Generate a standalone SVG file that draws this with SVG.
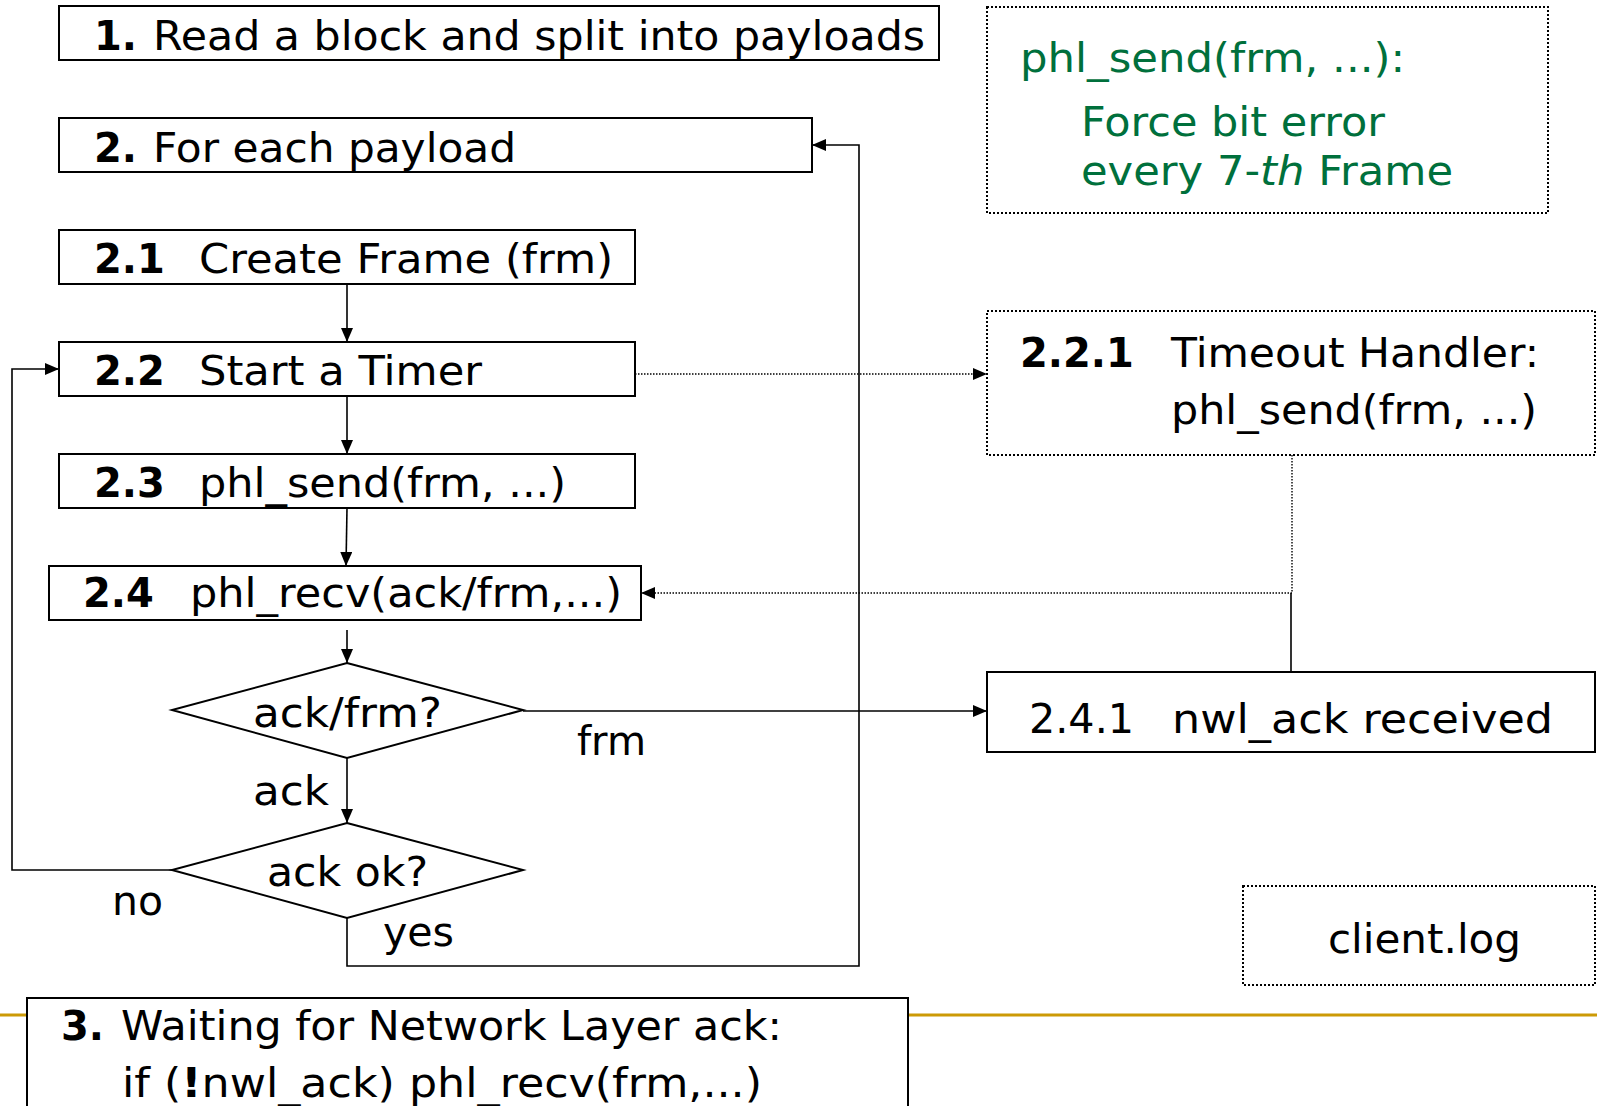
<svg xmlns="http://www.w3.org/2000/svg" width="1597" height="1106" viewBox="0 0 1597 1106">
<style>
text{font-family:"DejaVu Sans","Liberation Sans",sans-serif;font-size:40px;fill:#000}
.b{font-weight:bold}
.g{fill:#00703C}
.box{fill:#fff;stroke:#000;stroke-width:2}
.dbox{fill:#fff;stroke:#000;stroke-width:2;stroke-dasharray:2 2}
.ln{fill:none;stroke:#000;stroke-width:1.6}
.dl{fill:none;stroke:#000;stroke-width:1.4;stroke-dasharray:1.5 1.5}
</style>
<defs>
<marker id="arr" viewBox="0 0 14 12" refX="14" refY="6" markerWidth="14" markerHeight="12" orient="auto" markerUnits="userSpaceOnUse"><path d="M0,0 L14,6 L0,12 z" fill="#000"/></marker>
</defs>
<line x1="0" y1="1015" x2="1597" y2="1015" stroke="#CC9A06" stroke-width="3"/>
<g id="connectors">
<line class="ln" x1="347" y1="284" x2="347" y2="342" marker-end="url(#arr)"/>
<line class="ln" x1="347" y1="396" x2="347" y2="454" marker-end="url(#arr)"/>
<line class="ln" x1="347" y1="508" x2="346" y2="566" marker-end="url(#arr)"/>
<line class="ln" x1="347" y1="630" x2="347" y2="663" marker-end="url(#arr)"/>
<line class="ln" x1="347" y1="758" x2="347" y2="823" marker-end="url(#arr)"/>
<line class="ln" x1="523" y1="711" x2="987" y2="711" marker-end="url(#arr)"/>
<polyline class="ln" points="172,870 12,870 12,369 59,369" marker-end="url(#arr)"/>
<polyline class="ln" points="347,918 347,966 859,966 859,145 812,145" marker-end="url(#arr)"/>
<line class="dl" x1="635" y1="374" x2="987" y2="374" marker-end="url(#arr)"/>
<polyline class="dl" points="1292,455 1292,593 641,593" marker-end="url(#arr)"/>
<line class="ln" x1="1291" y1="672" x2="1291" y2="593"/>
<text x="253" y="805" textLength="76" lengthAdjust="spacingAndGlyphs">ack</text>
<text x="577" y="755" textLength="69" lengthAdjust="spacingAndGlyphs">frm</text>
<text x="112" y="915" textLength="51" lengthAdjust="spacingAndGlyphs">no</text>
<text x="383" y="946" textLength="71" lengthAdjust="spacingAndGlyphs">yes</text>
</g>
<g id="n1">
<rect class="box" x="59" y="6" width="880" height="54"/>
<text class="b" x="94" y="50">1.</text>
<text x="153" y="50" textLength="772" lengthAdjust="spacingAndGlyphs">Read a block and split into payloads</text>
</g>
<g id="n2">
<rect class="box" x="59" y="118" width="753" height="54"/>
<text class="b" x="94" y="162">2.</text>
<text x="153" y="162" textLength="363" lengthAdjust="spacingAndGlyphs">For each payload</text>
</g>
<g id="n21">
<rect class="box" x="59" y="230" width="576" height="54"/>
<text class="b" x="94" y="273">2.1</text>
<text x="199" y="273" textLength="414" lengthAdjust="spacingAndGlyphs">Create Frame (frm)</text>
</g>
<g id="n22">
<rect class="box" x="59" y="342" width="576" height="54"/>
<text class="b" x="94" y="385">2.2</text>
<text x="199" y="385" textLength="283" lengthAdjust="spacingAndGlyphs">Start a Timer</text>
</g>
<g id="n23">
<rect class="box" x="59" y="454" width="576" height="54"/>
<text class="b" x="94" y="497">2.3</text>
<text x="199" y="497" textLength="367" lengthAdjust="spacingAndGlyphs">phl_send(frm, ...)</text>
</g>
<g id="n24">
<rect class="box" x="49" y="566" width="592" height="54"/>
<text class="b" x="83" y="607">2.4</text>
<text x="190" y="607" textLength="432" lengthAdjust="spacingAndGlyphs">phl_recv(ack/frm,...)</text>
</g>
<g id="d1">
<polygon class="box" points="347,663 523,710 347,758 172,710"/>
<text x="253" y="727" textLength="189" lengthAdjust="spacingAndGlyphs">ack/frm?</text>
</g>
<g id="d2">
<polygon class="box" points="347,823 523,870 347,918 172,870"/>
<text x="267" y="886" textLength="161" lengthAdjust="spacingAndGlyphs">ack ok?</text>
</g>
<g id="n3">
<rect class="box" x="27" y="998" width="881" height="120"/>
<text class="b" x="61" y="1040">3.</text>
<text x="121" y="1040" textLength="661" lengthAdjust="spacingAndGlyphs">Waiting for Network Layer ack:</text>
<text x="122" y="1097" textLength="640" lengthAdjust="spacingAndGlyphs">if (<tspan class="b">!</tspan>nwl_ack) phl_recv(frm,...)</text>
</g>
<g id="note">
<rect class="dbox" x="987" y="7" width="561" height="206"/>
<text class="g" x="1020" y="72" textLength="385" lengthAdjust="spacingAndGlyphs">phl_send(frm, ...):</text>
<text class="g" x="1081" y="136" textLength="304" lengthAdjust="spacingAndGlyphs">Force bit error</text>
<text class="g" x="1081" y="185" textLength="372" lengthAdjust="spacingAndGlyphs">every 7-<tspan font-style="italic">th</tspan> Frame</text>
</g>
<g id="n221">
<rect class="dbox" x="987" y="311" width="608" height="144"/>
<text class="b" x="1020" y="367">2.2.1</text>
<text x="1171" y="367" textLength="368" lengthAdjust="spacingAndGlyphs">Timeout Handler:</text>
<text x="1171" y="424" textLength="366" lengthAdjust="spacingAndGlyphs">phl_send(frm, ...)</text>
</g>
<g id="n241">
<rect class="box" x="987" y="672" width="608" height="80"/>
<text x="1029" y="733" textLength="105" lengthAdjust="spacingAndGlyphs">2.4.1</text>
<text x="1172" y="733" textLength="381" lengthAdjust="spacingAndGlyphs">nwl_ack received</text>
</g>
<g id="log">
<rect class="dbox" x="1243" y="886" width="352" height="99"/>
<text x="1328" y="953" textLength="193" lengthAdjust="spacingAndGlyphs">client.log</text>
</g>
</svg>
